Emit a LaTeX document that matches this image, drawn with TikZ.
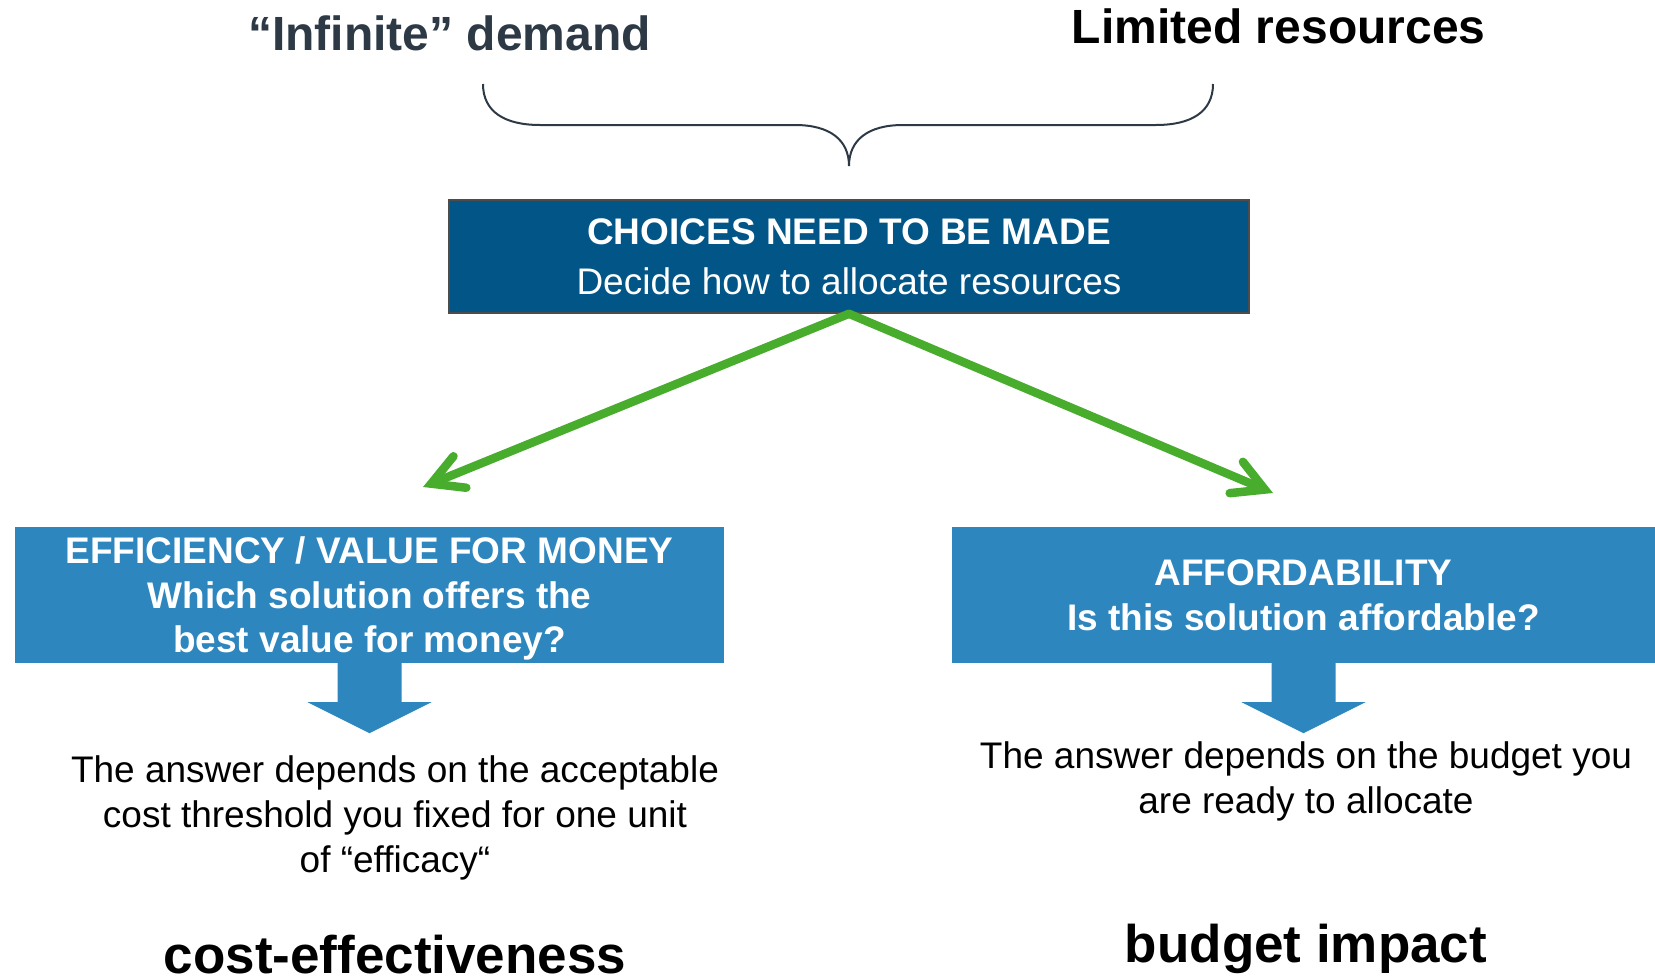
\documentclass[tikz,border=0pt]{standalone}
\usepackage{fontspec}
\setmainfont{Liberation Sans}
\usetikzlibrary{arrows.meta}
\definecolor{topblue}{RGB}{2,85,135}
\definecolor{boxblue}{RGB}{46,134,190}
\definecolor{choicegreen}{RGB}{72,172,44}
\definecolor{slate}{RGB}{45,58,70}

\begin{document}
\begin{tikzpicture} [x=1pt, y=-1pt,
  headline/.style={inner sep=0pt, font={\bfseries\fontsize{48}{56}\selectfont}},
  choicebox/.style={fill=topblue, draw=black!70, line width=1.5pt, text=white, align=center, inner sep=0pt, minimum width=800pt, minimum height=113pt, font={\fontsize{37}{50}\selectfont}},
  critbox/.style={fill=boxblue, text=white, align=center, inner sep=0pt, text depth=0pt, minimum height=136pt, font={\bfseries\fontsize{37}{44.5}\selectfont}},
  answer/.style={align=center, inner sep=0pt, font={\fontsize{37}{45}\selectfont}},
  method/.style={inner sep=0pt, font={\bfseries\fontsize{53}{60}\selectfont}}]
\useasboundingbox[fill=white] (0,0) rectangle (1655,980);
\node[headline, text=slate] (demand) at (449.6,33.5) {“Infinite” demand};
\node[headline] (limited) at (1278.7,26.5) {Limited resources};
\draw[slate, line width=2pt] (483,84) .. controls (483,112) and (505,125) .. (540,125) -- (795,125)
  .. controls (830,125) and (849,140) .. (849,166) .. controls (849,140) and (868,125) .. (903,125)
  -- (1156,125) .. controls (1191,125) and (1213,112) .. (1213,84);
\node[choicebox] (choice) at (849,256.5) {{\bfseries CHOICES NEED TO BE MADE}\\Decide how to allocate resources};
\node[critbox, minimum width=709pt] (eff) at (369.5,595) {EFFICIENCY / VALUE FOR MONEY\\Which solution offers the\\best value for money?};
\node[critbox, minimum width=703pt] (aff) at (1303.5,595) {AFFORDABILITY\\Is this solution affordable?};
\coordinate (effin) at (423,487);
\coordinate (affin) at (1273,493);
\foreach \t in {effin,affin} {
 \draw[choicegreen, line width=8.5pt, line cap=round, -{Straight Barb[length=31pt, width=34pt, line cap=round]}] (choice.south) -- (\t);
}
\foreach \b in {eff,aff} {
 \fill[boxblue] (\b.south) +(-32,0) -- +(-32,39) -- +(-62,39) -- +(0,70) -- +(62,39) -- +(32,39) -- +(32,0) -- cycle;
}
\node[answer] (effans) at (395,817.5) {The answer depends on the acceptable\\cost threshold you fixed for one unit\\of “efficacy“};
\node[answer] (affans) at (1306,781) {The answer depends on the budget you\\are ready to allocate};
\node[method] (cea) at (395,955) {cost-effectiveness};
\node[method] (bia) at (1306,949) {budget impact};
\end{tikzpicture}
\end{document}
